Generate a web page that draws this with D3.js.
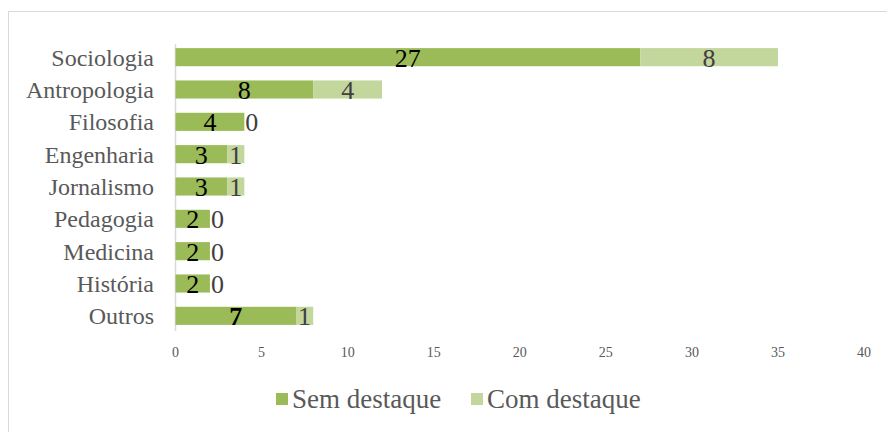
<!DOCTYPE html>
<html>
<head>
<meta charset="utf-8">
<script src="https://cdn.jsdelivr.net/npm/d3@7"></script>
<style>
  body { margin: 0; background: #fff; }
  text { font-family: "Liberation Serif", "Times New Roman", serif; }
</style>
</head>
<body>
<div id="chart"></div>
<script>
// data ---------------------------------------------------------------
const categories = ["Sociologia", "Antropologia", "Filosofia", "Engenharia", "Jornalismo",
                    "Pedagogia", "Medicina", "História", "Outros"];
const semDestaque = [27, 8, 4, 3, 3, 2, 2, 2, 7];
const comDestaque = [8, 4, 0, 1, 1, 0, 0, 0, 1];
const seriesNames = ["Sem destaque", "Com destaque"];
const xTicks = [0, 5, 10, 15, 20, 25, 30, 35, 40];

const colors = ["#9BBB59", "#C3D69B"];

const svg = d3.select("#chart").append("svg").attr("width", 887).attr("height", 432);

// chart border
svg.append("rect")
  .attr("x", 8.5).attr("y", 11.5)
  .attr("width", 890).attr("height", 430)
  .attr("fill", "white")
  .attr("stroke", "#d9d9d9")
  .attr("stroke-width", 1);

const x = d3.scaleLinear().domain([0, 40]).range([175.5, 864]);
const y = d3.scaleBand().domain(categories).range([41, 332]).paddingInner(0.44).paddingOuter(0.22);

// axis line
svg.append("line")
  .attr("x1", x(0)).attr("x2", x(0))
  .attr("y1", 44).attr("y2", 331)
  .attr("stroke", "#d9d9d9").attr("stroke-width", 1.5);

// bars
const rows = categories.map((c, i) => ({cat: c, a: semDestaque[i], b: comDestaque[i]}));

svg.selectAll(".barA").data(rows).enter().append("rect")
  .attr("x", x(0))
  .attr("y", d => y(d.cat))
  .attr("width", d => x(d.a) - x(0))
  .attr("height", y.bandwidth())
  .attr("fill", colors[0]);

svg.selectAll(".barB").data(rows).enter().append("rect")
  .attr("x", d => x(d.a))
  .attr("y", d => y(d.cat))
  .attr("width", d => x(d.a + d.b) - x(d.a))
  .attr("height", y.bandwidth())
  .attr("fill", colors[1]);

// category labels
svg.selectAll(".cat").data(categories).enter().append("text")
  .attr("x", 154)
  .attr("y", d => y(d) + y.bandwidth() / 2)
  .attr("dy", "0.35em")
  .attr("text-anchor", "end")
  .attr("fill", "#595959")
  .style("font-size", "24px")
  .text(d => d);

// value labels
svg.selectAll(".valA").data(rows).enter().append("text")
  .attr("x", d => (x(0) + x(d.a)) / 2)
  .attr("y", d => y(d.cat) + y.bandwidth() / 2)
  .attr("dy", "0.36em")
  .attr("text-anchor", "middle")
  .attr("fill", "#000")
  .style("font-size", "26px")
  .style("font-weight", d => d.cat === "Outros" ? "bold" : "normal")
  .text(d => d.a);

svg.selectAll(".valB").data(rows).enter().append("text")
  .attr("x", d => d.b === 0 ? x(d.a) + 1 : (x(d.a) + x(d.a + d.b)) / 2)
  .attr("y", d => y(d.cat) + y.bandwidth() / 2)
  .attr("dy", "0.36em")
  .attr("text-anchor", d => d.b === 0 ? "start" : "middle")
  .attr("fill", "#404040")
  .style("font-size", "26px")
  .text(d => d.b);

// x tick labels
svg.selectAll(".tick").data(xTicks).enter().append("text")
  .attr("x", d => x(d))
  .attr("y", 357)
  .attr("text-anchor", "middle")
  .attr("fill", "#595959")
  .style("font-size", "14px")
  .text(d => d);

// legend
const legendX = [276, 471];
const lg = svg.selectAll(".legend").data(seriesNames).enter().append("g")
  .attr("transform", (d, i) => `translate(${legendX[i]}, 399)`);
lg.append("rect")
  .attr("x", 0).attr("y", -6)
  .attr("width", 12).attr("height", 12)
  .attr("fill", (d, i) => colors[i]);
lg.append("text")
  .attr("x", 16).attr("y", 0)
  .attr("dy", "0.33em")
  .attr("fill", "#595959")
  .style("font-size", "27px")
  .text(d => d);
</script>
</body>
</html>
